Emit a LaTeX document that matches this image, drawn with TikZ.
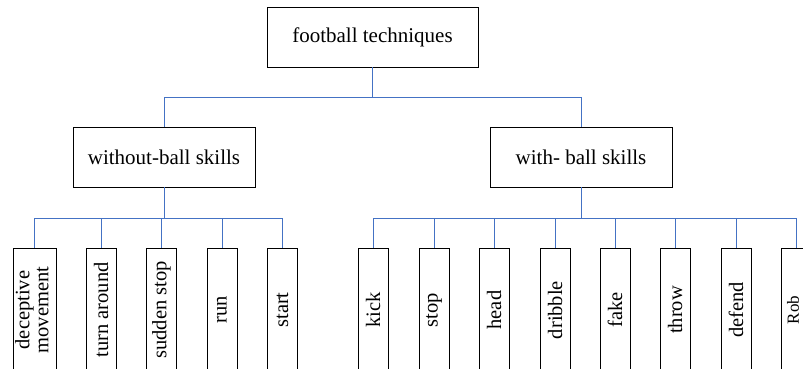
\documentclass[tikz,border=0pt]{standalone}
\usepackage{fontspec}
\setmainfont{Liberation Serif}
\begin{document}
\begin{tikzpicture}[x=1pt,y=-1pt,
  conn/.style={draw={rgb,255:red,68;green,114;blue,196}, line width=0.9pt},
  topbox/.style={draw=black, line width=0.9pt, minimum width=182pt, minimum height=60pt, inner sep=0pt, font=\fontsize{21}{24}\selectfont},
  leaf/.style={draw=black, line width=0.9pt, minimum width=30pt, minimum height=124pt, inner sep=0pt, font=\fontsize{20.5}{22}\selectfont}]
\useasboundingbox (0,0) rectangle (803,368);
\clip (0,0) rectangle (803,368);
\node[topbox, minimum width=211pt] (top) at (372.5,37) {football techniques};
\node[topbox] (wo) at (164,157) {without-ball skills};
\node[topbox] (wi) at (581,157) {with- ball skills};
\node[leaf, minimum width=43pt] (l1) at (34.5,310) {\rotatebox{90}{\begin{tabular}{@{}c@{}}deceptive\\[-3pt]movement\end{tabular}}};
\node[leaf] (l2) at (101,310) {\rotatebox{90}{turn around}};
\node[leaf] (l3) at (161.5,310) {\rotatebox{90}{sudden stop}};
\node[leaf] (l4) at (222,310) {\rotatebox{90}{run}};
\node[leaf] (l5) at (282.5,310) {\rotatebox{90}{start}};
\node[leaf] (r1) at (373,310) {\rotatebox{90}{kick}};
\node[leaf] (r2) at (434,310) {\rotatebox{90}{stop}};
\node[leaf] (r3) at (494,310) {\rotatebox{90}{head}};
\node[leaf] (r4) at (555,310) {\rotatebox{90}{dribble}};
\node[leaf] (r5) at (615,310) {\rotatebox{90}{fake}};
\node[leaf] (r6) at (675,310) {\rotatebox{90}{throw}};
\node[leaf] (r7) at (736,310) {\rotatebox{90}{defend}};
\node[leaf] (r8) at (796,310) {};
\node[rotate=90, inner sep=0pt, font=\fontsize{17}{20}\selectfont] (r8t) at ([xshift=-3pt]r8.center) {Rob};
\draw[conn] (top.south) -- ++(0,30) -| (wo.north);
\draw[conn] (top.south) -- ++(0,30) -| (wi.north);
\foreach \n in {l1,l2,l3,l4,l5}
  \draw[conn] (wo.south) -- ++(0,31) -| (\n.north);
\foreach \n in {r1,r2,r3,r4,r5,r6,r7,r8}
  \draw[conn] (wi.south) -- ++(0,31) -| (\n.north);
\end{tikzpicture}
\end{document}
